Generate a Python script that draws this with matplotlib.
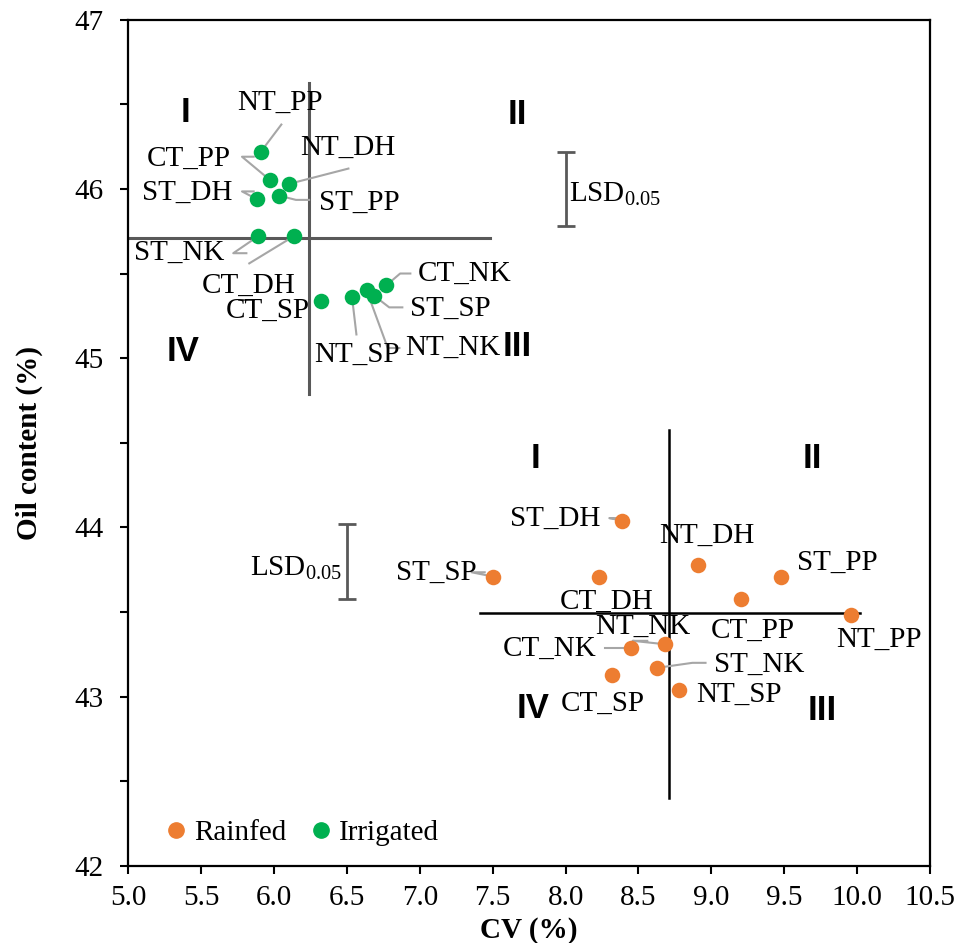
import matplotlib
matplotlib.use('Agg')
import matplotlib.pyplot as plt
import numpy as np
from matplotlib.lines import Line2D

plt.rcParams['font.family'] = ['Liberation Serif', 'DejaVu Serif']
plt.rcParams['mathtext.fontset'] = 'custom'
plt.rcParams['mathtext.rm'] = 'Liberation Serif'
plt.rcParams['mathtext.it'] = 'Liberation Serif:italic'
plt.rcParams['mathtext.bf'] = 'Liberation Serif:bold'

# ---------------- data ----------------
irr_names = ['NT_PP', 'CT_PP', 'NT_DH', 'ST_PP', 'ST_DH', 'ST_NK',
             'CT_DH', 'CT_SP', 'NT_SP', 'NT_NK', 'ST_SP', 'CT_NK']
irr_cv = [5.91, 5.975, 6.105, 6.035, 5.88, 5.89,
          6.135, 6.32, 6.535, 6.635, 6.685, 6.77]
irr_oil = [46.22, 46.05, 46.03, 45.96, 45.94, 45.72,
           45.72, 45.34, 45.36, 45.40, 45.37, 45.43]

rain_names = ['ST_DH', 'ST_SP', 'CT_DH', 'NT_DH', 'ST_PP', 'CT_PP',
              'NT_PP', 'NT_NK', 'CT_NK', 'ST_NK', 'CT_SP', 'NT_SP']
rain_cv = [8.39, 7.50, 8.23, 8.91, 9.48, 9.205,
           9.955, 8.68, 8.45, 8.625, 8.32, 8.78]
rain_oil = [44.04, 43.71, 43.71, 43.78, 43.71, 43.58,
            43.48, 43.31, 43.29, 43.17, 43.13, 43.04]

lsd_value = 0.44
series_names = ['Rainfed', 'Irrigated']
quadrant_names = ['I', 'II', 'III', 'IV']
x_ticks = [5.0, 5.5, 6.0, 6.5, 7.0, 7.5, 8.0, 8.5, 9.0, 9.5, 10.0, 10.5]
y_ticks = [42, 43, 44, 45, 46, 47]

# ---------------- layout (label placement) ----------------
irr_label_pos = {
    'NT_PP': (6.04, 46.51), 'CT_PP': (5.418, 46.18), 'NT_DH': (6.509, 46.24),
    'ST_PP': (6.584, 45.92), 'ST_DH': (5.407, 45.977), 'ST_NK': (5.35, 45.62),
    'CT_DH': (5.824, 45.43), 'CT_SP': (5.96, 45.28), 'NT_SP': (6.567, 45.02),
    'NT_NK': (7.225, 45.06), 'ST_SP': (7.212, 45.29), 'CT_NK': (7.31, 45.50),
}
irr_leader = {
    'NT_PP': [(6.05, 46.38)],
    'CT_PP': [(5.78, 46.19), (5.86, 46.19)],
    'NT_DH': [(6.51, 46.12)],
    'ST_PP': [(6.15, 45.935), (6.24, 45.935)],
    'ST_DH': [(5.78, 45.985), (5.86, 45.985)],
    'ST_NK': [(5.72, 45.62), (5.81, 45.62)],
    'CT_DH': [(5.83, 45.56)],
    'NT_SP': [(6.565, 45.14)],
    'NT_NK': [(6.78, 45.06), (6.86, 45.06)],
    'ST_SP': [(6.79, 45.30), (6.88, 45.30)],
    'CT_NK': [(6.865, 45.50), (6.935, 45.50)],
}
rain_label_pos = {
    'ST_DH': (7.932, 44.05), 'ST_SP': (7.115, 43.73), 'CT_DH': (8.28, 43.56),
    'NT_DH': (8.97, 43.95), 'ST_PP': (9.864, 43.79), 'CT_PP': (9.287, 43.39),
    'NT_PP': (10.149, 43.335), 'NT_NK': (8.527, 43.41), 'CT_NK': (7.893, 43.28),
    'ST_NK': (9.33, 43.19), 'CT_SP': (8.252, 42.96), 'NT_SP': (9.189, 43.01),
}
rain_leader = {
    'ST_DH': [(8.30, 44.055), (8.36, 44.055)],
    'ST_SP': [(7.355, 43.735), (7.445, 43.735)],
    'CT_NK': [(8.27, 43.29)],
    'NT_NK': [(8.46, 43.33), (8.56, 43.33)],
    'ST_NK': [(8.87, 43.20), (8.96, 43.20)],
}

ORANGE = '#ED7D31'
GREEN = '#00B050'
LEADER = '#A6A6A6'
FS = 21

fig = plt.figure(figsize=(9.56, 9.43), dpi=100)
ax = fig.add_axes([0.1342, 0.0817, 0.8386, 0.8975])

ax.set_xlim(5.0, 10.5)
ax.set_ylim(42, 47)

# quadrant lines (at series means)
irr_mx, irr_my = np.mean(irr_cv), np.mean(irr_oil)
rain_mx, rain_my = np.mean(rain_cv), np.mean(rain_oil)
ax.plot([irr_mx, irr_mx], [44.79, 46.625], color='#595959', lw=2.2, zorder=1)
ax.plot([5.0, 7.48], [irr_my, irr_my], color='#595959', lw=2.2, zorder=1)
ax.plot([rain_mx, rain_mx], [42.40, 44.575], color='black', lw=1.8, zorder=1)
ax.plot([7.41, 10.02], [rain_my, rain_my], color='black', lw=1.8, zorder=1)

# leader lines
def draw_leaders(names, xs, ys, leaders):
    for n, x, y in zip(names, xs, ys):
        if n in leaders:
            pts = [(x, y)] + leaders[n]
            ax.plot([p[0] for p in pts], [p[1] for p in pts],
                    color=LEADER, lw=1.5, zorder=2)

draw_leaders(irr_names, irr_cv, irr_oil, irr_leader)
draw_leaders(rain_names, rain_cv, rain_oil, rain_leader)
ax.plot([5.76, 5.86], [45.345, 45.345], color='#404040', lw=1.2, zorder=2)

ax.scatter(rain_cv, rain_oil, s=125, color=ORANGE, zorder=3, linewidths=0)
ax.scatter(irr_cv, irr_oil, s=125, color=GREEN, zorder=3, linewidths=0)

for n in irr_names:
    tx, ty = irr_label_pos[n]
    ax.text(tx, ty, n, fontsize=FS, ha='center', va='center', zorder=4)
for n in rain_names:
    tx, ty = rain_label_pos[n]
    ax.text(tx, ty, n, fontsize=FS, ha='center', va='center', zorder=4)

# quadrant numerals
qfont = dict(fontsize=25, fontweight='bold', family='Liberation Sans',
             ha='center', va='center')
irr_q = [(5.39, 46.45), (7.667, 46.44), (7.665, 45.07), (5.373, 45.04)]
rain_q = [(7.796, 44.41), (9.69, 44.41), (9.758, 42.92), (7.776, 42.93)]
for q, (x, y) in zip(quadrant_names, irr_q):
    ax.text(x, y, q, **qfont)
for q, (x, y) in zip(quadrant_names, rain_q):
    ax.text(x, y, q, **qfont)

# LSD bars
ax.errorbar([8.0], [46.0], yerr=lsd_value / 2, color='#595959', lw=2,
            capsize=6.5, capthick=2, fmt='none', zorder=2)
ax.text(8.02, 45.97, r'LSD$_{\mathrm{0.05}}$', fontsize=FS, ha='left', va='center')
ax.errorbar([6.5], [43.8], yerr=lsd_value / 2, color='#595959', lw=2,
            capsize=6.5, capthick=2, fmt='none', zorder=2)
ax.text(6.47, 43.76, r'LSD$_{\mathrm{0.05}}$', fontsize=FS, ha='right', va='center')

# axes styling
ax.set_xticks(x_ticks)
ax.set_xticklabels([f'{v:.1f}' for v in x_ticks])
ax.set_yticks(y_ticks)
ax.set_yticklabels([str(v) for v in y_ticks])
ax.set_yticks(np.arange(42.5, 47, 1.0), minor=True)
ax.tick_params(axis='both', which='both', direction='out', length=6,
               width=1.5, labelsize=FS)
ax.tick_params(axis='y', pad=12)
ax.tick_params(axis='x', pad=8)
for s in ax.spines.values():
    s.set_linewidth(1.6)

ax.set_xlabel('CV (%)', fontsize=FS, fontweight='bold', labelpad=4)
ax.set_ylabel('Oil content (%)', fontsize=FS, fontweight='bold', labelpad=22)

handles = [Line2D([], [], marker='o', ls='none', color=ORANGE, markersize=11, label=series_names[0]),
           Line2D([], [], marker='o', ls='none', color=GREEN, markersize=11, label=series_names[1])]
ax.legend(handles=handles, loc='center left', bbox_to_anchor=(0.02, 0.039),
          ncol=2, frameon=False, fontsize=FS, handletextpad=0.0,
          columnspacing=0.6, borderpad=0, handlelength=1.2)

fig.savefig('out.png', dpi=100)
